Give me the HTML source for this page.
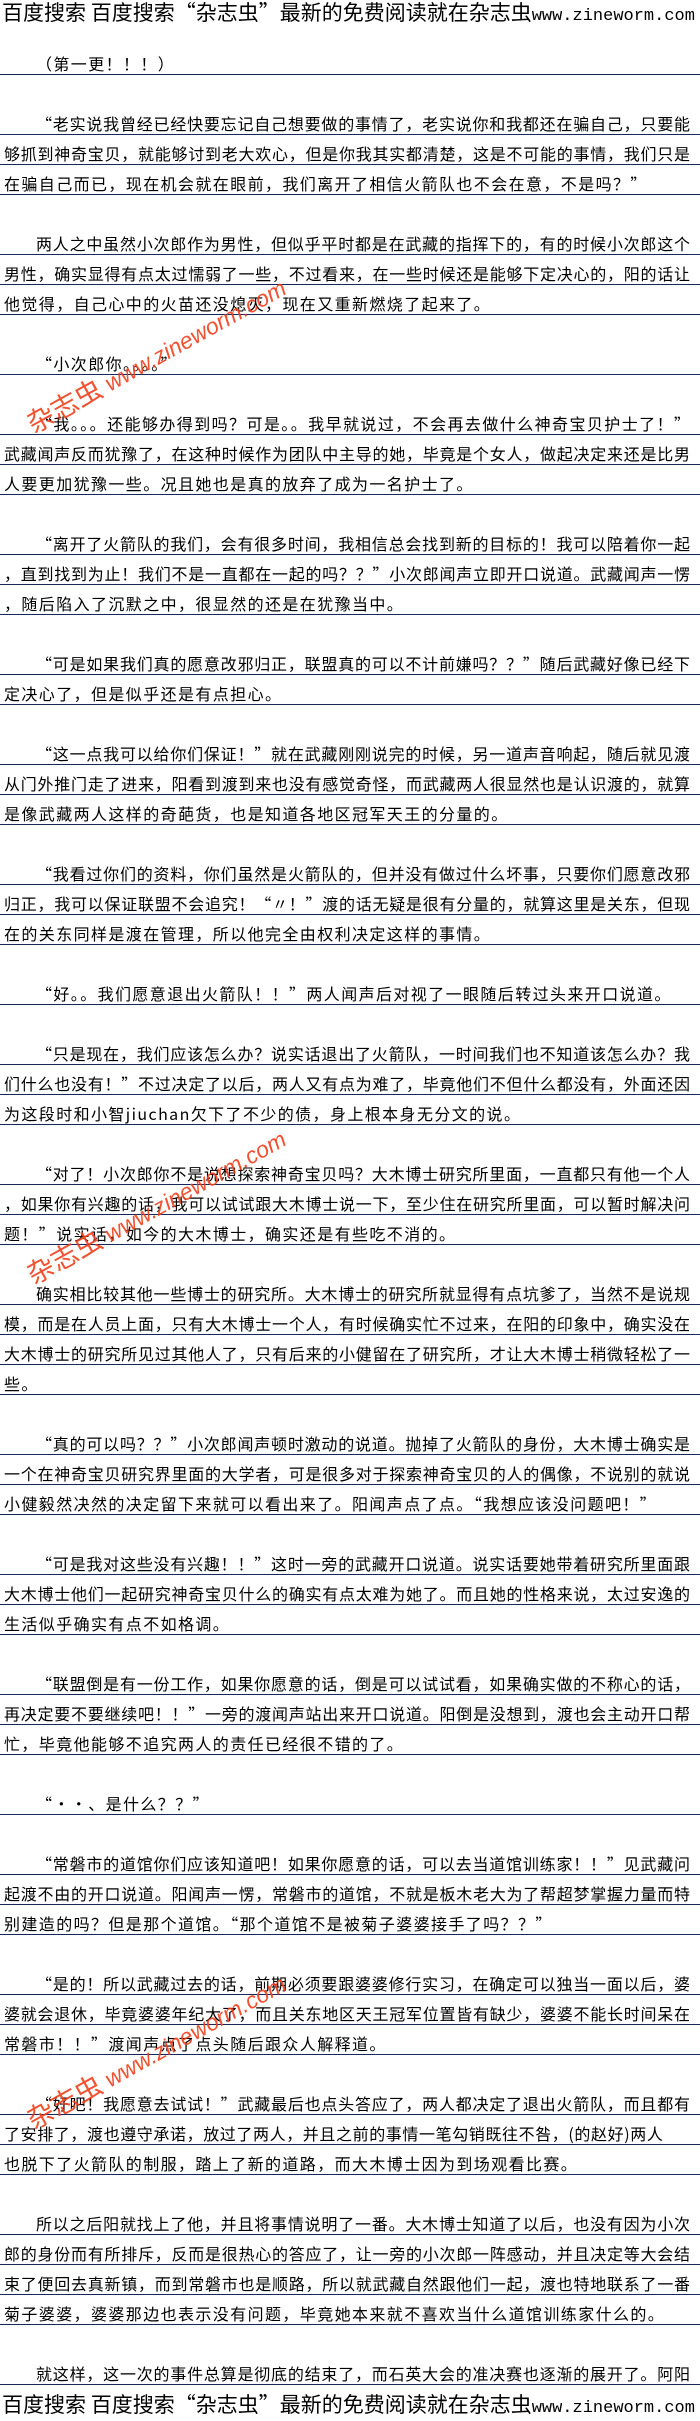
<!DOCTYPE html>
<html><head><meta charset="utf-8"><style>
html,body{margin:0;padding:0;background:#fff;}
body{width:700px;height:2420px;position:relative;overflow:hidden;font-family:"Noto Sans CJK SC","WenQuanYi Zen Hei","Liberation Sans",sans-serif;color:#000;}
.l{position:absolute;left:0;width:700px;height:23px;box-sizing:border-box;border-bottom:1px solid #14285a;padding:0 10px 0 4px;font-size:16px;line-height:22px;letter-spacing:1.4px;overflow:hidden;white-space:normal;}
.i{padding-left:36px;}
.f{text-align:justify;text-align-last:justify;letter-spacing:0;}
.hd{position:absolute;left:2px;font-size:21px;line-height:24px;white-space:nowrap;}
.hd span{font-family:"Liberation Mono",monospace;font-size:17px;}
.wm{position:absolute;color:#f0401c;font-family:"Liberation Sans","Noto Sans CJK SC",sans-serif;font-style:italic;font-size:23px;white-space:nowrap;transform:rotate(-29deg);transform-origin:center;opacity:0.9;}
.wm b{font-weight:normal;font-size:27px;font-style:normal;}
</style></head><body>
<div class="hd" style="top:0px">百度搜索 百度搜索“杂志虫”最新的免费阅读就在杂志虫<span>www.zineworm.com</span></div>

<div class="l i" style="top:52px">（第一更！！！）</div>

<div class="l i f" style="top:112px">“老实说我曾经已经快要忘记自己想要做的事情了，老实说你和我都还在骗自己，只要能</div>
<div class="l f" style="top:142px">够抓到神奇宝贝，就能够讨到老大欢心，但是你我其实都清楚，这是不可能的事情，我们只是</div>
<div class="l" style="top:172px">在骗自己而已，现在机会就在眼前，我们离开了相信火箭队也不会在意，不是吗？”</div>

<div class="l i f" style="top:232px">两人之中虽然小次郎作为男性，但似乎平时都是在武藏的指挥下的，有的时候小次郎这个</div>
<div class="l f" style="top:262px">男性，确实显得有点太过懦弱了一些，不过看来，在一些时候还是能够下定决心的，阳的话让</div>
<div class="l" style="top:292px">他觉得，自己心中的火苗还没熄灭，现在又重新燃烧了起来了。</div>

<div class="l i" style="top:352px">“小次郎你。。。。”</div>

<div class="l i f" style="top:412px">“我。。。还能够办得到吗？可是。。我早就说过，不会再去做什么神奇宝贝护士了！”</div>
<div class="l f" style="top:442px">武藏闻声反而犹豫了，在这种时候作为团队中主导的她，毕竟是个女人，做起决定来还是比男</div>
<div class="l" style="top:472px">人要更加犹豫一些。况且她也是真的放弃了成为一名护士了。</div>

<div class="l i f" style="top:532px">“离开了火箭队的我们，会有很多时间，我相信总会找到新的目标的！我可以陪着你一起</div>
<div class="l f" style="top:562px">，直到找到为止！我们不是一直都在一起的吗？？”小次郎闻声立即开口说道。武藏闻声一愣</div>
<div class="l" style="top:592px">，随后陷入了沉默之中，很显然的还是在犹豫当中。</div>

<div class="l i f" style="top:652px">“可是如果我们真的愿意改邪归正，联盟真的可以不计前嫌吗？？”随后武藏好像已经下</div>
<div class="l" style="top:682px">定决心了，但是似乎还是有点担心。</div>

<div class="l i f" style="top:742px">“这一点我可以给你们保证！”就在武藏刚刚说完的时候，另一道声音响起，随后就见渡</div>
<div class="l f" style="top:772px">从门外推门走了进来，阳看到渡到来也没有感觉奇怪，而武藏两人很显然也是认识渡的，就算</div>
<div class="l" style="top:802px">是像武藏两人这样的奇葩货，也是知道各地区冠军天王的分量的。</div>

<div class="l i f" style="top:862px">“我看过你们的资料，你们虽然是火箭队的，但并没有做过什么坏事，只要你们愿意改邪</div>
<div class="l f" style="top:892px">归正，我可以保证联盟不会追究！“〃！”渡的话无疑是很有分量的，就算这里是关东，但现</div>
<div class="l" style="top:922px">在的关东同样是渡在管理，所以他完全由权利决定这样的事情。</div>

<div class="l i" style="top:982px">“好。。我们愿意退出火箭队！！”两人闻声后对视了一眼随后转过头来开口说道。</div>

<div class="l i f" style="top:1042px">“只是现在，我们应该怎么办？说实话退出了火箭队，一时间我们也不知道该怎么办？我</div>
<div class="l f" style="top:1072px">们什么也没有！”不过决定了以后，两人又有点为难了，毕竟他们不但什么都没有，外面还因</div>
<div class="l" style="top:1102px">为这段时和小智jiuchan欠下了不少的债，身上根本身无分文的说。</div>

<div class="l i f" style="top:1162px">“对了！小次郎你不是说想探索神奇宝贝吗？大木博士研究所里面，一直都只有他一个人</div>
<div class="l f" style="top:1192px">，如果你有兴趣的话，我可以试试跟大木博士说一下，至少住在研究所里面，可以暂时解决问</div>
<div class="l" style="top:1222px">题！”说实话，如今的大木博士，确实还是有些吃不消的。</div>

<div class="l i f" style="top:1282px">确实相比较其他一些博士的研究所。大木博士的研究所就显得有点坑爹了，当然不是说规</div>
<div class="l f" style="top:1312px">模，而是在人员上面，只有大木博士一个人，有时候确实忙不过来，在阳的印象中，确实没在</div>
<div class="l f" style="top:1342px">大木博士的研究所见过其他人了，只有后来的小健留在了研究所，才让大木博士稍微轻松了一</div>
<div class="l" style="top:1372px">些。</div>

<div class="l i f" style="top:1432px">“真的可以吗？？”小次郎闻声顿时激动的说道。抛掉了火箭队的身份，大木博士确实是</div>
<div class="l f" style="top:1462px">一个在神奇宝贝研究界里面的大学者，可是很多对于探索神奇宝贝的人的偶像，不说别的就说</div>
<div class="l" style="top:1492px">小健毅然决然的决定留下来就可以看出来了。阳闻声点了点。“我想应该没问题吧！”</div>

<div class="l i f" style="top:1552px">“可是我对这些没有兴趣！！”这时一旁的武藏开口说道。说实话要她带着研究所里面跟</div>
<div class="l f" style="top:1582px">大木博士他们一起研究神奇宝贝什么的确实有点太难为她了。而且她的性格来说，太过安逸的</div>
<div class="l" style="top:1612px">生活似乎确实有点不如格调。</div>

<div class="l i f" style="top:1672px">“联盟倒是有一份工作，如果你愿意的话，倒是可以试试看，如果确实做的不称心的话，</div>
<div class="l f" style="top:1702px">再决定要不要继续吧！！”一旁的渡闻声站出来开口说道。阳倒是没想到，渡也会主动开口帮</div>
<div class="l" style="top:1732px">忙，毕竟他能够不追究两人的责任已经很不错的了。</div>

<div class="l i" style="top:1792px">“··、是什么？？”</div>

<div class="l i f" style="top:1852px">“常磐市的道馆你们应该知道吧！如果你愿意的话，可以去当道馆训练家！！”见武藏问</div>
<div class="l f" style="top:1882px">起渡不由的开口说道。阳闻声一愣，常磐市的道馆，不就是板木老大为了帮超梦掌握力量而特</div>
<div class="l" style="top:1912px">别建造的吗？但是那个道馆。“那个道馆不是被菊子婆婆接手了吗？？”</div>

<div class="l i f" style="top:1972px">“是的！所以武藏过去的话，前期必须要跟婆婆修行实习，在确定可以独当一面以后，婆</div>
<div class="l f" style="top:2002px">婆就会退休，毕竟婆婆年纪大了，而且关东地区天王冠军位置皆有缺少，婆婆不能长时间呆在</div>
<div class="l" style="top:2032px">常磐市！！”渡闻声点了点头随后跟众人解释道。</div>

<div class="l i f" style="top:2092px">“好吧！我愿意去试试！”武藏最后也点头答应了，两人都决定了退出火箭队，而且都有</div>
<div class="l" style="top:2122px;letter-spacing:0.6px">了安排了，渡也遵守承诺，放过了两人，并且之前的事情一笔勾销既往不咎，(的赵好)两人</div>
<div class="l" style="top:2152px">也脱下了火箭队的制服，踏上了新的道路，而大木博士因为到场观看比赛。</div>

<div class="l i f" style="top:2212px">所以之后阳就找上了他，并且将事情说明了一番。大木博士知道了以后，也没有因为小次</div>
<div class="l f" style="top:2242px">郎的身份而有所排斥，反而是很热心的答应了，让一旁的小次郎一阵感动，并且决定等大会结</div>
<div class="l f" style="top:2272px">束了便回去真新镇，而到常磐市也是顺路，所以就武藏自然跟他们一起，渡也特地联系了一番</div>
<div class="l" style="top:2302px">菊子婆婆，婆婆那边也表示没有问题，毕竟她本来就不喜欢当什么道馆训练家什么的。</div>

<div class="l i f" style="top:2362px">就这样，这一次的事件总算是彻底的结束了，而石英大会的准决赛也逐渐的展开了。阿阳</div>

<div class="hd" style="top:2392px">百度搜索 百度搜索“杂志虫”最新的免费阅读就在杂志虫<span>www.zineworm.com</span></div>

<div class="wm" style="left:10px;top:334px"><b>杂志虫</b> www.zineworm.com</div>
<div class="wm" style="left:10px;top:1185px"><b>杂志虫</b> www.zineworm.com</div>
<div class="wm" style="left:10px;top:2030px"><b>杂志虫</b> www.zineworm.com</div>
</body></html>
